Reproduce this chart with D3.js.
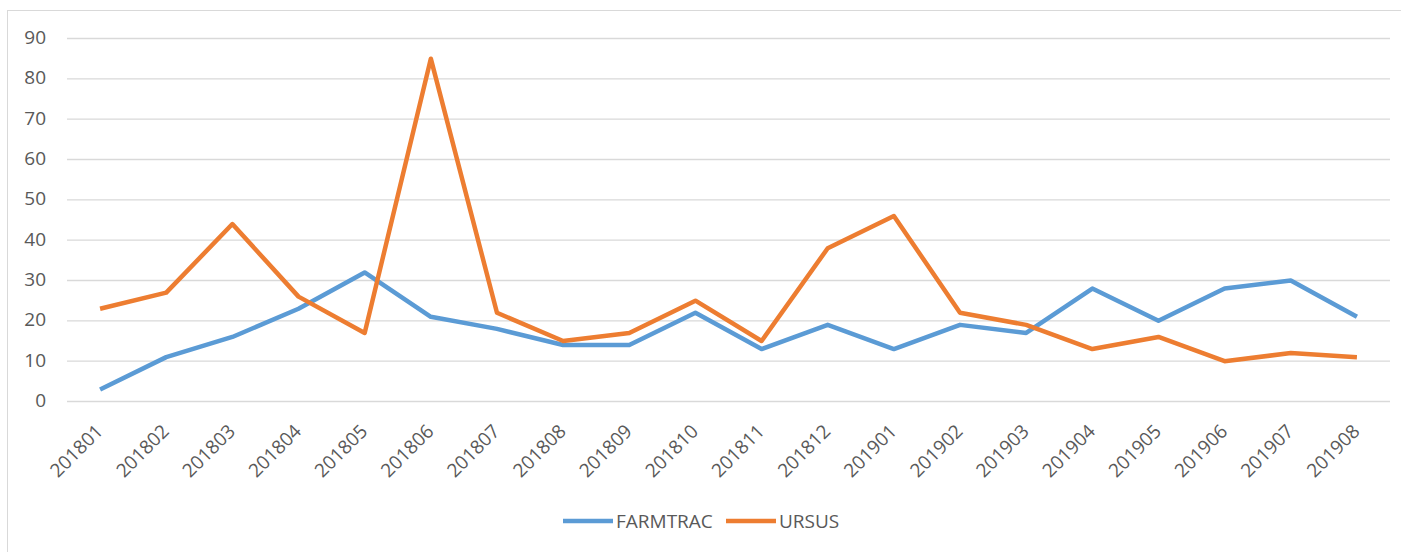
<!DOCTYPE html>
<html>
<head>
<meta charset="utf-8">
<script src="https://cdn.jsdelivr.net/npm/d3@7"></script>
<style>
  body { margin: 0; background: #fff; }
  text { font-family: "Open Sans", sans-serif; fill: #595959; }
</style>
</head>
<body>
<script>
// months on the x axis
const months = ['201801', '201802', '201803', '201804', '201805', '201806', '201807', '201808', '201809', '201810',
  '201811', '201812', '201901', '201902', '201903', '201904', '201905', '201906', '201907', '201908'];
const farmtrac = [3, 11, 16, 23, 32, 21, 18, 14, 14, 22, 13, 19, 13, 19, 17, 28, 20, 28, 30, 21];
const ursus = [23, 27, 44, 26, 17, 85, 22, 15, 17, 25, 15, 38, 46, 22, 19, 13, 16, 10, 12, 11];
const yTicks = [0, 10, 20, 30, 40, 50, 60, 70, 80, 90];
const seriesNames = ['FARMTRAC', 'URSUS'];
const colors = ['#5b9bd5', '#ed7d31'];

const W = 1401, H = 552;
const svg = d3.select('body').append('svg').attr('width', W).attr('height', H);

// chart frame
svg.append('rect')
  .attr('x', 7.5).attr('y', 10.5).attr('width', W).attr('height', H)
  .attr('fill', 'none').attr('stroke', '#d9d9d9');

const x = d3.scaleBand().domain(months).range([67, 1390]);
const y = d3.scaleLinear().domain([0, 90]).range([401.5, 38.5]);

// gridlines
svg.append('g').selectAll('line').data(yTicks).join('line')
  .attr('x1', 67).attr('x2', 1390)
  .attr('y1', d => y(d)).attr('y2', d => y(d))
  .attr('stroke', '#d9d9d9').attr('stroke-width', 1.3);

// y axis labels
const yAxis = d3.axisLeft(y).tickValues(yTicks).tickSize(0).tickPadding(0);
svg.append('g').attr('transform', 'translate(46,0)').call(yAxis)
  .call(g => g.select('.domain').remove())
  .selectAll('text')
  .style('font-size', '19px').attr('fill', '#595959').attr('font-family', '"Open Sans", sans-serif')
  .attr('dy', '0.26em');

// x axis labels, rotated
const xAxis = d3.axisBottom(x).tickSize(0).tickPadding(0);
svg.append('g').attr('transform', 'translate(0,401.5)').call(xAxis)
  .call(g => g.select('.domain').remove())
  .selectAll('text')
  .style('font-size', '19px').attr('fill', '#595959').attr('font-family', '"Open Sans", sans-serif')
  .attr('text-anchor', 'end')
  .attr('y', 0).attr('dy', 0)
  .attr('transform', 'translate(4,31) rotate(-45)');

const line = d3.line().x((d, i) => x(months[i]) + x.bandwidth() / 2).y(d => y(d));
[farmtrac, ursus].forEach((vals, k) => {
  svg.append('path').datum(vals)
    .attr('d', line)
    .attr('fill', 'none')
    .attr('stroke', colors[k])
    .attr('stroke-width', 4.5)
    .attr('stroke-linejoin', 'round');
});

// legend
const legendX = [563, 726];
seriesNames.forEach((name, k) => {
  const g = svg.append('g').attr('transform', `translate(${legendX[k]},521)`);
  g.append('line').attr('x1', 0).attr('x2', 50).attr('stroke', colors[k]).attr('stroke-width', 4.5);
  g.append('text').attr('x', 53).attr('dy', '0.35em').style('font-size', '19px').text(name);
});
</script>
</body>
</html>
